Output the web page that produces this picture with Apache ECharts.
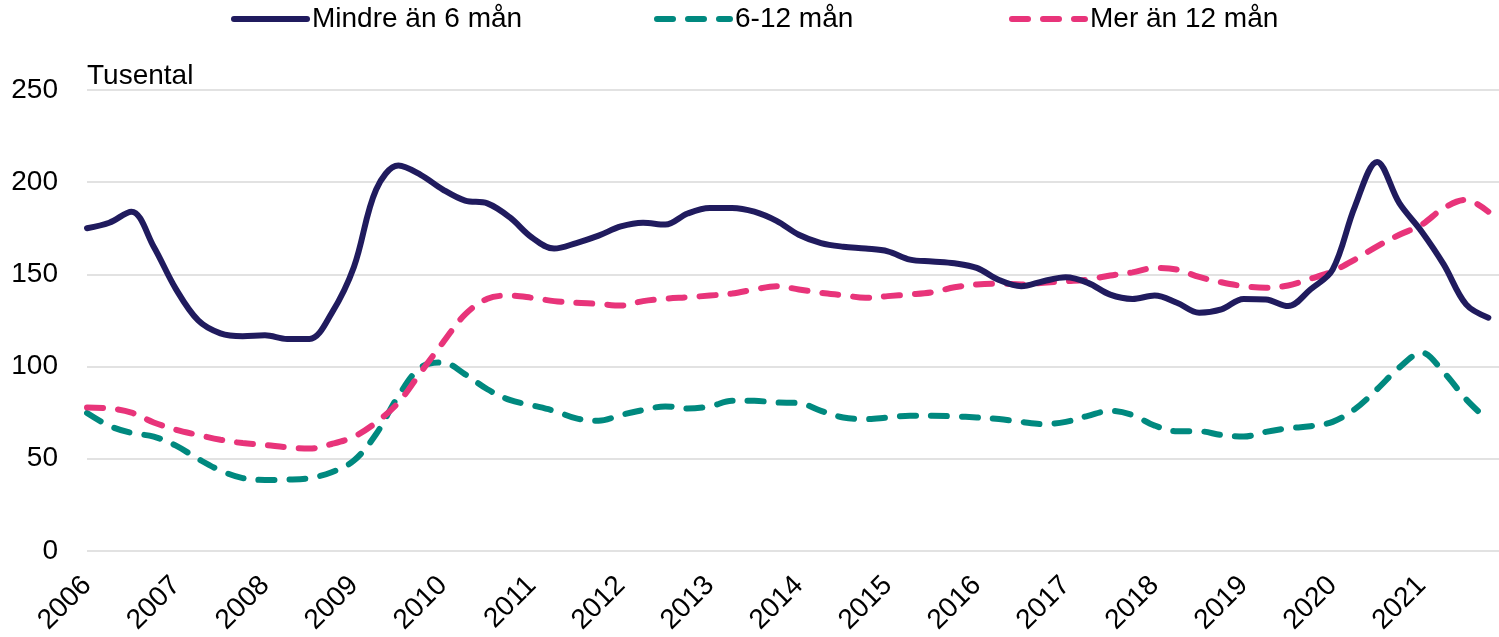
<!DOCTYPE html>
<html>
<head>
<meta charset="utf-8">
<script src="https://cdn.jsdelivr.net/npm/echarts@6/dist/echarts.min.js"></script>
<style>
html,body{margin:0;padding:0;background:#fff;}
#chart{width:1499px;height:637px;}
</style>
</head>
<body>
<div id="chart"></div>
<script>
// Quarterly observations 2006 K1 – 2021 K4 (tusental)
const quarters = [];
for (let y = 2006; y <= 2021; y++) { for (let q = 1; q <= 4; q++) quarters.push(y + 'K' + q); }

const seriesNames = ['Mindre än 6 mån', '6-12 mån', 'Mer än 12 mån'];

const mindre6 = [175,178,184,165,142,125,118,116.5,117,115,115,129,154,196,209,204,
  196,190,188.5,181,170,164,167,171,176,178,177,183,186,186,184,179,
  171.5,167,165,164,162.5,158,157,156,153.5,147,143.6,146.3,148.4,145.4,139,136.7,
  138.5,134.6,129.2,131,136.7,136.4,132.8,141.8,152.6,186.8,211,188.6,173.3,155.3,133.7,126.5];

const mellan6_12 = [74.8,67.9,64,62,57.1,49.9,43.6,39.5,38.5,38.7,39.5,42.7,49,63.4,84.1,99.5,
  102.2,95.8,87.7,81.9,79,76,71.9,70.6,73.7,76.4,78.4,77.3,78.4,81.4,81.4,80.5,
  80.2,76,72.4,71.5,72.4,73.3,73.3,73,72.4,71.5,70,68.8,70,73.3,76,73.7,
  68,64.9,64.9,62.9,62,64.6,66.5,67.6,70,76.9,87.7,99.5,107.6,96.8,82.3,70.6];

const mer12 = [77.8,77.3,75,69.7,65.7,62.9,60.3,58.5,57.5,56.2,55.5,58,62,69.7,80.5,96.8,
  113,128.3,136.8,138.5,137.3,135.5,134.6,134,133.1,135.5,136.8,137.6,138.5,139.6,141.8,143.6,
  141.8,140,138.7,137.3,138.2,139.1,140.3,143,144.5,145,144.5,145.4,146.3,147.2,149.4,151.1,
  153.5,152.6,148.6,145.7,143.6,142.7,144,147.6,151.7,158,165.2,171.5,176.9,186,190.4,184];

const yTicks = [0, 50, 100, 150, 200, 250];
const colors = ['#201b5e', '#00897f', '#e8347a'];

function toPoints(vals) {
  return vals.map((v, i) => {
    const [y, q] = quarters[i].split('K');
    return [Number(y) + (Number(q) - 1) / 4, v];
  });
}

const font = "'Liberation Sans', Arial, sans-serif";
const FS = 28;
const LW = 6;
const dash = [16, 15];
const chart = echarts.init(document.getElementById('chart'));

function legendFor(i, left, dashed) {
  return {
    data: [seriesNames[i]],
    left: left, top: 5, padding: 0,
    itemWidth: 73, itemHeight: 14, itemGap: 0,
    textStyle: { fontFamily: font, fontSize: FS, color: '#000' },
    itemStyle: { opacity: 0 },
    lineStyle: { color: colors[i], width: LW, type: dashed ? dash : 'solid', cap: 'round' },
    selectedMode: false
  };
}

chart.setOption({
  animation: false,
  backgroundColor: '#fff',
  textStyle: { fontFamily: font },
  legend: [legendFor(0, 231, false), legendFor(1, 654, true), legendFor(2, 1009, true)],
  grid: { left: 87, right: 0, top: 90, bottom: 85, containLabel: false },
  xAxis: {
    type: 'value', min: 2006, max: 2021.87, interval: 1,
    axisLine: { show: false }, axisTick: { show: false }, splitLine: { show: false },
    axisLabel: {
      rotate: 45, margin: 30, fontSize: FS, color: '#000', fontFamily: font,
      showMaxLabel: false,
      formatter: v => (Math.abs(v - Math.round(v)) < 1e-6 ? String(Math.round(v)) : '')
    }
  },
  yAxis: {
    type: 'value', min: yTicks[0], max: yTicks[yTicks.length - 1], interval: 50,
    name: 'Tusental', nameLocation: 'end', nameGap: 0,
    nameTextStyle: { align: 'left', fontSize: FS, color: '#000', fontFamily: font },
    axisLine: { show: false }, axisTick: { show: false },
    axisLabel: { margin: 29, fontSize: FS, color: '#000', fontFamily: font },
    splitLine: { lineStyle: { color: '#d9d9d9', width: 1.5 } }
  },
  series: [
    { name: seriesNames[0], type: 'line', data: toPoints(mindre6), smooth: 0.35, symbol: 'none',
      lineStyle: { color: colors[0], width: LW, cap: 'round', join: 'round' }, itemStyle: { color: colors[0] }, z: 3 },
    { name: seriesNames[1], type: 'line', data: toPoints(mellan6_12), smooth: 0.35, symbol: 'none',
      lineStyle: { color: colors[1], width: LW, type: dash, cap: 'round' }, itemStyle: { color: colors[1] }, z: 2 },
    { name: seriesNames[2], type: 'line', data: toPoints(mer12), smooth: 0.35, symbol: 'none',
      lineStyle: { color: colors[2], width: LW, type: dash, cap: 'round' }, itemStyle: { color: colors[2] }, z: 2 }
  ]
});
</script>
</body>
</html>
